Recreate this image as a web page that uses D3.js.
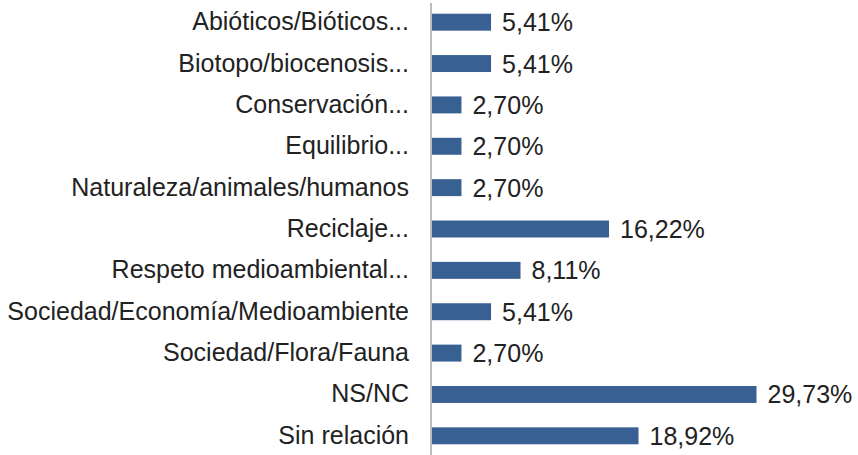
<!DOCTYPE html>
<html>
<head>
<meta charset="utf-8">
<script src="https://cdn.jsdelivr.net/npm/d3@7"></script>
<style>
  body { margin: 0; background: #fff; }
  text { font-family: "Liberation Sans", Arial, sans-serif; fill: #222; }
</style>
</head>
<body>
<div id="chart"></div>
<script>
// Categories, top to bottom
var categories = [
    "Abióticos/Bióticos...",
    "Biotopo/biocenosis...",
    "Conservación...",
    "Equilibrio...",
    "Naturaleza/animales/humanos",
    "Reciclaje...",
    "Respeto medioambiental...",
    "Sociedad/Economía/Medioambiente",
    "Sociedad/Flora/Fauna",
    "NS/NC",
    "Sin relación"
];

// Percentages
var values = [5.41, 5.41, 2.70, 2.70, 2.70, 16.22, 8.11, 5.41, 2.70, 29.73, 18.92];

var width = 858, height = 455;
var axisX = 431;

var svg = d3.select("#chart").append("svg")
    .attr("width", width)
    .attr("height", height);

// Scales
var x = d3.scaleLinear().domain([0, 29.73]).range([axisX, 755.5]);
var y = d3.scaleBand().domain(categories).range([1.5, 456.5]).paddingInner(0.59).paddingOuter(0.295);

// Bars
svg.selectAll("rect.bar")
    .data(values)
    .enter()
    .append("rect")
    .attr("class", "bar")
    .attr("x", x(0) + 1)
    .attr("y", function(d, i) { return y(categories[i]); })
    .attr("width", function(d) { return x(d) - x(0); })
    .attr("height", y.bandwidth())
    .style("fill", "#386092");

// Value labels
svg.selectAll("text.val")
    .data(values)
    .enter()
    .append("text")
    .attr("class", "val")
    .attr("x", function(d) { return x(d) + 12; })
    .attr("y", function(d, i) { return y(categories[i]) + y.bandwidth() / 2; })
    .attr("dy", "0.36em")
    .style("font-size", "25px")
    .text(function(d) { return d.toFixed(2).replace(".", ",") + "%"; });

// Category axis
var yAxis = d3.axisLeft(y).tickSize(0).tickPadding(22);
var g = svg.append("g").attr("transform", "translate(" + axisX + ",0)").call(yAxis);
g.select(".domain").attr("d", "M0,3V455").style("stroke", "#a6a6a6").style("stroke-width", 1.5);
g.selectAll("text")
    .style("font-family", "'Liberation Sans', Arial, sans-serif")
    .style("font-size", "25px")
    .style("fill", "#222");
</script>
</body>
</html>
